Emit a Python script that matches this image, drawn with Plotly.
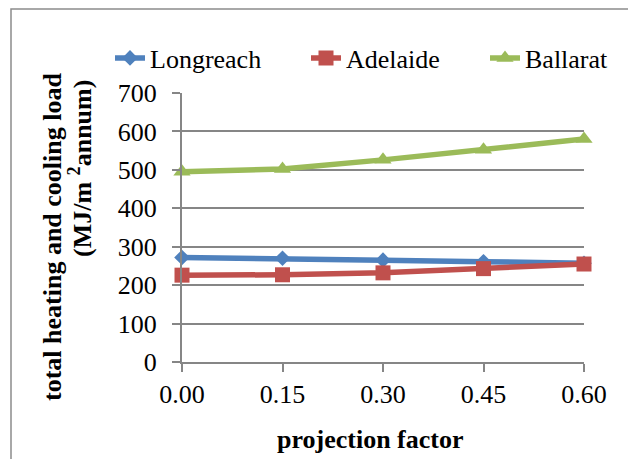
import plotly.graph_objects as go

# Projection factor (x) and annual heating + cooling load per city
projection_factor = [0.00, 0.15, 0.30, 0.45, 0.60]
tick_labels = ["0.00", "0.15", "0.30", "0.45", "0.60"]
longreach = [272, 270, 265, 261, 257]
adelaide = [226, 227, 232, 243, 255]
ballarat = [495, 502, 526, 552, 580]

FONT = "Liberation Serif, Times New Roman, serif"
GRID = "#868686"

W, H = 628, 459
L, R, T, B = 182, 44, 93, 97
PW, PH = W - L - R, H - T - B


def px_x(px):
    return (px - L) / PW


def px_y(py):
    return (H - B - py) / PH


fig = go.Figure()

series = [
    ("Longreach", longreach, "#4F81BD", "diamond", 12, 151),
    ("Adelaide", adelaide, "#C0504D", "square", 15, 134),
    ("Ballarat", ballarat, "#9BBB59", "triangle-up", 15, 90),
]
for name, vals, color, sym, size, lw in series:
    fig.add_trace(go.Scatter(
        x=projection_factor, y=vals, name=name, mode="lines+markers",
        line=dict(color=color, width=5.5),
        marker=dict(symbol=sym, size=size, color=color),
        cliponaxis=False, legendwidth=lw,
    ))

fig.update_xaxes(
    range=[0, 0.6], tickvals=projection_factor, ticktext=tick_labels,
    showgrid=False, zeroline=False, showline=True, linecolor=GRID, linewidth=2,
    ticks="outside", ticklen=8, tickcolor=GRID, tickwidth=2,
    ticklabelstandoff=0,
    tickfont=dict(family=FONT, size=26, color="black"),
)
fig.update_yaxes(
    range=[0, 700], tickvals=[0, 100, 200, 300, 400, 500, 600, 700],
    showgrid=True, gridcolor=GRID, gridwidth=2, zeroline=False,
    showline=True, linecolor=GRID, linewidth=2,
    ticks="outside", ticklen=8, tickcolor=GRID, tickwidth=2,
    ticklabelstandoff=10,
    tickfont=dict(family=FONT, size=26, color="black"),
)

annotations = [
    dict(text="<b>projection factor</b>", x=px_x(370), y=px_y(439),
         xanchor="center", yanchor="middle", showarrow=False,
         font=dict(family=FONT, size=26, color="black")),
    dict(text="<b>total heating and cooling load</b>", x=px_x(52), y=px_y(237),
         xanchor="center", yanchor="middle", textangle=-90, showarrow=False,
         font=dict(family=FONT, size=26, color="black")),
    dict(text="<b>(MJ/m <sup>2</sup>annum)</b>", x=px_x(80), y=px_y(169),
         xanchor="center", yanchor="middle", textangle=-90, showarrow=False,
         font=dict(family=FONT, size=26, color="black")),
]
for a in annotations:
    a["xref"] = "paper"
    a["yref"] = "paper"

fig.update_layout(
    width=W, height=H,
    margin=dict(l=L, r=R, t=T, b=B, autoexpand=False),
    paper_bgcolor="white", plot_bgcolor="white",
    font=dict(family=FONT, color="black"),
    legend=dict(
        orientation="h", xref="paper", yref="paper",
        x=px_x(110), y=px_y(58), xanchor="left", yanchor="middle",
        font=dict(family=FONT, size=26, color="black"),
        bgcolor="rgba(0,0,0,0)", tracegroupgap=0,
    ),
    annotations=annotations,
    shapes=[dict(
        type="rect", xref="paper", yref="paper",
        x0=px_x(11), x1=px_x(640), y0=px_y(9), y1=px_y(475),
        line=dict(color="#8C8C8C", width=1.5), fillcolor="rgba(0,0,0,0)",
        layer="below",
    )],
)

fig.write_html("out.html")
